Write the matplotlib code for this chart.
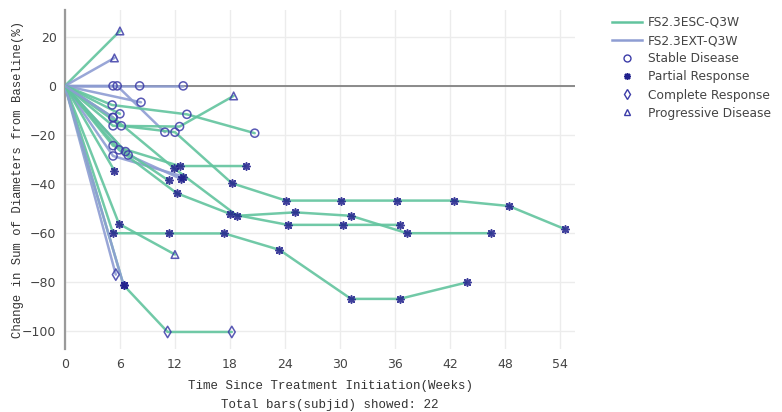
import matplotlib
matplotlib.use("Agg")
import matplotlib.pyplot as plt
from matplotlib.lines import Line2D

# one entry per subject: arm, weeks, % change, response at each visit
arms = ["ESC", "EXT", "EXT", "EXT", "EXT", "ESC", "ESC", "ESC", "ESC", "ESC", "ESC",
        "EXT", "ESC", "EXT", "ESC", "EXT", "EXT", "ESC", "ESC", "ESC", "ESC", "EXT"]
weeks = [
    [6.0],
    [5.4],
    [5.25, 8.15, 12.9],
    [5.7, 10.9],
    [8.3],
    [5.15, 13.3, 20.7],
    [6.0],
    [5.25, 12.5, 18.4],
    [6.15, 12.0, 18.2, 24.1, 30.1, 36.2, 42.4, 48.4, 54.5],
    [5.25, 11.3, 17.4, 23.4, 31.2, 36.5, 43.8],
    [5.9, 12.0],
    [5.55],
    [6.4, 11.2, 18.2],
    [6.4],
    [5.25, 12.5, 19.7],
    [5.25, 12.9],
    [6.9, 12.7],
    [6.6, 11.3],
    [5.9, 12.2, 18.0, 24.3, 30.3, 36.5],
    [5.25, 11.9, 18.8, 25.1, 31.2, 37.3, 46.5],
    [5.4],
    [5.25],
]
pct = [
    [22.4],
    [11.4],
    [0, 0, 0],
    [0, -18.9],
    [-6.7],
    [-7.8, -11.6, -19.3],
    [-11.4],
    [-16.3, -16.6, -4.1],
    [-16.3, -18.9, -39.7, -46.8, -46.8, -46.8, -46.8, -49.0, -58.4],
    [-60.1, -60.2, -60.2, -66.9, -86.9, -86.9, -80.2],
    [-56.3, -68.8],
    [-77.0],
    [-81.3, -100.4, -100.4],
    [-81.3],
    [-24.4, -32.7, -32.7],
    [-28.6, -37.0],
    [-28.2, -38.0],
    [-26.8, -38.6],
    [-26.1, -43.8, -52.2, -56.7, -56.7, -56.7],
    [-12.9, -33.6, -53.0, -51.6, -53.0, -60.1, -60.1],
    [-34.6],
    [-12.9],
]
resp = [
    ["PD"],
    ["PD"],
    ["SD", "SD", "SD"],
    ["SD", "SD"],
    ["SD"],
    ["SD", "SD", "SD"],
    ["SD"],
    ["SD", "SD", "PD"],
    ["SD", "SD", "PR", "PR", "PR", "PR", "PR", "PR", "PR"],
    ["PR", "PR", "PR", "PR", "PR", "PR", "PR"],
    ["PR", "PD"],
    ["CR"],
    ["PR", "CR", "CR"],
    ["PR"],
    ["SD", "PR", "PR"],
    ["SD", "PR"],
    ["SD", "PR"],
    ["SD", "PR"],
    ["SD", "PR", "PR", "PR", "PR", "PR"],
    ["SD", "PR", "PR", "PR", "PR", "PR", "PR"],
    ["PR"],
    ["SD"],
]
arm_names = {"ESC": "FS2.3ESC-Q3W", "EXT": "FS2.3EXT-Q3W"}
resp_names = {"SD": "Stable Disease", "PR": "Partial Response",
              "CR": "Complete Response", "PD": "Progressive Disease"}

arm_colors = {"ESC": "#62c49e", "EXT": "#8e9dd3"}
mk_color = "#3c3ca8"
resp_style = {
    "SD": dict(marker="o", s=34, facecolors="none", edgecolors=mk_color, linewidths=1.1),
    "PR": dict(marker=(8, 2, 0), s=26, color="#20208c", linewidths=1.2),
    "CR": dict(marker="d", s=34, facecolors="none", edgecolors=mk_color, linewidths=1.1),
    "PD": dict(marker="^", s=30, facecolors="none", edgecolors=mk_color, linewidths=1.1),
}

plt.rcParams['font.family'] = ['DejaVu Sans']
fig = plt.figure(figsize=(7.82, 4.12), dpi=100)
ax = fig.add_axes([0.083, 0.152, 0.652, 0.824])

for arm, w, v in zip(arms, weeks, pct):
    ax.plot([0] + w, [0] + v, color=arm_colors[arm], lw=1.8, alpha=0.9, zorder=3,
            solid_capstyle="round")

for code in ["SD", "PR", "CR", "PD"]:
    xs, ys = [], []
    for w, v, r in zip(weeks, pct, resp):
        for a, b, c in zip(w, v, r):
            if c == code:
                xs.append(a)
                ys.append(b)
    ax.scatter(xs, ys, zorder=4, alpha=0.85, **resp_style[code])

ax.axhline(0, color="#8a8a8a", lw=1.4, zorder=2)
ax.set_xlim(0, 55.6)
ax.set_ylim(-107.5, 31)
ax.set_xticks(range(0, 55, 6))
ax.set_yticks(range(-100, 21, 20))
ax.grid(True, color="#ececec", lw=1)
ax.set_axisbelow(True)
for s in ["top", "right", "bottom"]:
    ax.spines[s].set_visible(False)
ax.spines["left"].set_color("#9a9a9a")
ax.spines["left"].set_linewidth(1.6)
ax.tick_params(length=0, labelsize=9, labelcolor="#444444", pad=6)
ax.tick_params(axis="x", pad=6)
ax.set_yticklabels(["\u2212100", "\u221280", "\u221260", "\u221240", "\u221220", "0", "20"])

mono = "Liberation Mono"
ax.set_ylabel("Change in Sum of Diameters from Baseline(%)", family=mono,
              fontsize=8.8, color="#333333")
ax.yaxis.set_label_coords(-0.08, 0.5)
fig.text(0.422, 0.062, "Time Since Treatment Initiation(Weeks)", family=mono,
         fontsize=9, color="#333333", ha="center", va="center")
fig.text(0.422, 0.018, "Total bars(subjid) showed: %d" % len(arms), family=mono,
         fontsize=9, color="#333333", ha="center", va="center")

handles = [Line2D([], [], color=arm_colors[k], lw=1.8) for k in ["ESC", "EXT"]]
labels = [arm_names[k] for k in ["ESC", "EXT"]]
for code in ["SD", "PR", "CR", "PD"]:
    st = resp_style[code]
    if code == "PR":
        h = Line2D([], [], ls="none", marker=st["marker"], ms=5, color=st["color"], mew=1.1)
    else:
        h = Line2D([], [], ls="none", marker=st["marker"], ms=5, mfc="none",
                   mec=mk_color, mew=1)
    handles.append(h)
    labels.append(resp_names[code])
leg = fig.legend(handles, labels, loc="upper left", bbox_to_anchor=(0.772, 0.982),
                 frameon=False, fontsize=8.8, handlelength=2.4, labelspacing=0.42,
                 handletextpad=0.5, borderpad=0.2)
for t in leg.get_texts():
    t.set_color("#444444")

fig.savefig("out.png", dpi=100)
